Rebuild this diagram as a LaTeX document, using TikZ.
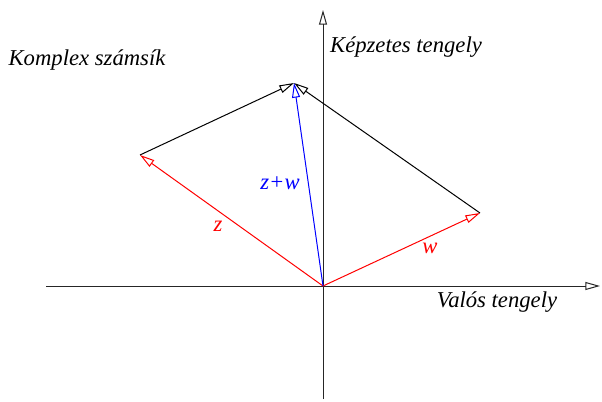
\documentclass[tikz,border=0pt]{standalone}
\usepackage{fontspec}
\setmainfont{Liberation Serif}
\usetikzlibrary{arrows.meta}
\begin{document}
\begin{tikzpicture}[x=0.75pt,y=-0.75pt,
  tip/.style={-{Triangle[open,length=11pt,width=6pt]}, line width=0.75pt},
  lbl/.style={font=\fontsize{17}{20}\selectfont\itshape, inner sep=0pt}]
\useasboundingbox (0,0) rectangle (602,402);
\coordinate (O) at (323,286);
\coordinate (xl) at (46,286);
\coordinate (xr) at (600,286);
\coordinate (yb) at (323,399);
\coordinate (yt) at (323,10);
\coordinate (Z) at (140,155);
\coordinate (W) at (480,213);
\coordinate (S) at (294,83);
\draw[tip, draw=black!85] (xl) -- (xr);
\draw[tip, draw=black!85] (yb) -- (yt);
\draw[tip, red] (O) -- (Z);
\draw[tip, red] (O) -- (W);
\draw[tip, black] (Z) -- (S);
\draw[tip, black] (W) -- (S);
\draw[tip, blue] (O) -- (S);
\node[lbl] (t1) at (87,60) {Komplex számsík};
\node[lbl] (t2) at (406,47) {Képzetes tengely};
\node[lbl] (t3) at (497,302) {Valós tengely};
\node[lbl, red] (lz) at (218,226) {z};
\node[lbl, red] (lw) at (430,248) {w};
\node[lbl, blue] (ls) at (280,183) {z+w};
\end{tikzpicture}
\end{document}
